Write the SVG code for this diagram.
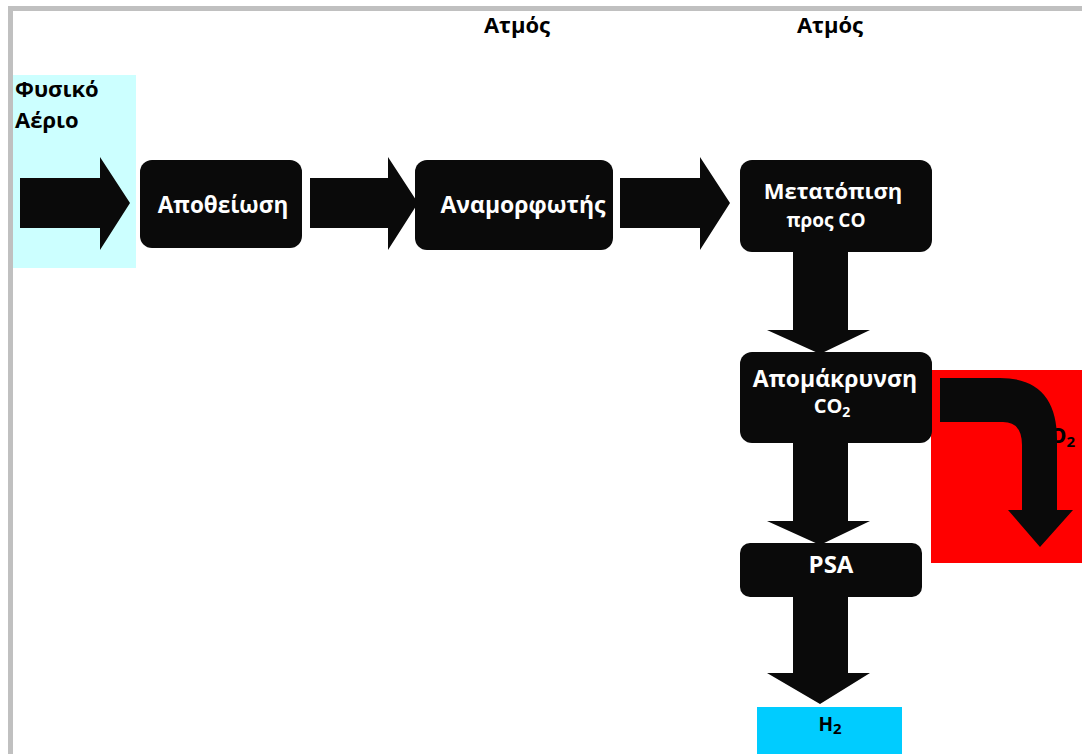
<svg xmlns="http://www.w3.org/2000/svg" width="1082" height="754" viewBox="0 0 1082 754">
<style>
.box{fill:#0a0a0a;}
.arr{fill:#0a0a0a;}
.wt{fill:#ffffff;font-family:"Open Sans","DejaVu Sans",sans-serif;font-weight:bold;text-anchor:middle;}
.bt{fill:#000000;font-family:"Open Sans","DejaVu Sans",sans-serif;font-weight:bold;}
</style>
<rect x="0" y="0" width="1082" height="754" fill="#ffffff"/>
<rect x="8" y="6" width="1074" height="5" fill="#c0c0c0"/>
<rect x="8" y="6" width="5" height="748" fill="#c0c0c0"/>
<rect x="13" y="75" width="123" height="193" fill="#ccffff"/>
<rect x="931" y="370" width="151" height="193" fill="#ff0000"/>
<rect x="757" y="707" width="145" height="47" fill="#00ccff"/>
<g id="labels">
<text class="bt" x="15" y="97" font-size="22">Φυσικό</text>
<text class="bt" x="15" y="128" font-size="22">Αέριο</text>
<text class="bt" x="517" y="33" font-size="22" text-anchor="middle">Ατμός</text>
<text class="bt" x="830" y="33" font-size="22" text-anchor="middle">Ατμός</text>
<text class="bt" x="1035" y="443" font-size="22">CO<tspan font-size="15" dy="4">2</tspan></text>
<text class="bt" x="830" y="731" font-size="19" text-anchor="middle" font-family="Liberation Sans, Arial, sans-serif">H<tspan font-size="15" dy="3">2</tspan></text>
</g>
<g id="connectors">
<path class="arr" d="M20,178 L100,178 L100,157 L130,203 L100,250 L100,228 L20,228 Z"/>
<path class="arr" d="M310,178 L388,178 L388,157 L418,203 L388,250 L388,228 L310,228 Z"/>
<path class="arr" d="M620,178 L700,178 L700,157 L730,203 L700,250 L700,228 L620,228 Z"/>
<path class="arr" d="M793,250 L848,250 L848,330 L870,330 L820,354 L767,330 L793,330 Z"/>
<path class="arr" d="M793,441 L848,441 L848,521 L870,521 L820,545 L767,521 L793,521 Z"/>
<path class="arr" d="M793,595 L848,595 L848,673 L870,673 L820,704 L767,673 L793,673 Z"/>
<path class="arr" d="M940,378 L1000,378 Q1057,378 1057,440 L1057,510 L1073,510 L1040,547 L1008,510 L1022,510 L1022,445 Q1022,422 1003,422 L940,422 Z"/>
</g>
<g id="n1"><rect class="box" x="140" y="160" width="162" height="88" rx="12"/><text class="wt" x="223" y="213" font-size="22.5">Αποθείωση</text></g>
<g id="n2"><rect class="box" x="415" y="160" width="198" height="90" rx="12"/><text class="wt" x="523" y="213" font-size="23">Αναμορφωτής</text></g>
<g id="n3"><rect class="box" x="740" y="160" width="192" height="92" rx="12"/><text class="wt" x="833" y="199" font-size="22">Μετατόπιση</text><text class="wt" x="826" y="227" font-size="19">προς CO</text></g>
<g id="n4"><rect class="box" x="740" y="352" width="192" height="91" rx="12"/><text class="wt" x="835" y="387" font-size="23">Απομάκρυνση</text><text class="wt" x="832" y="413" font-size="20">CO<tspan font-size="14" dy="4">2</tspan></text></g>
<g id="n5"><rect class="box" x="740" y="543" width="182" height="54" rx="10"/><text class="wt" x="831" y="573" font-size="24">PSA</text></g>
</svg>
